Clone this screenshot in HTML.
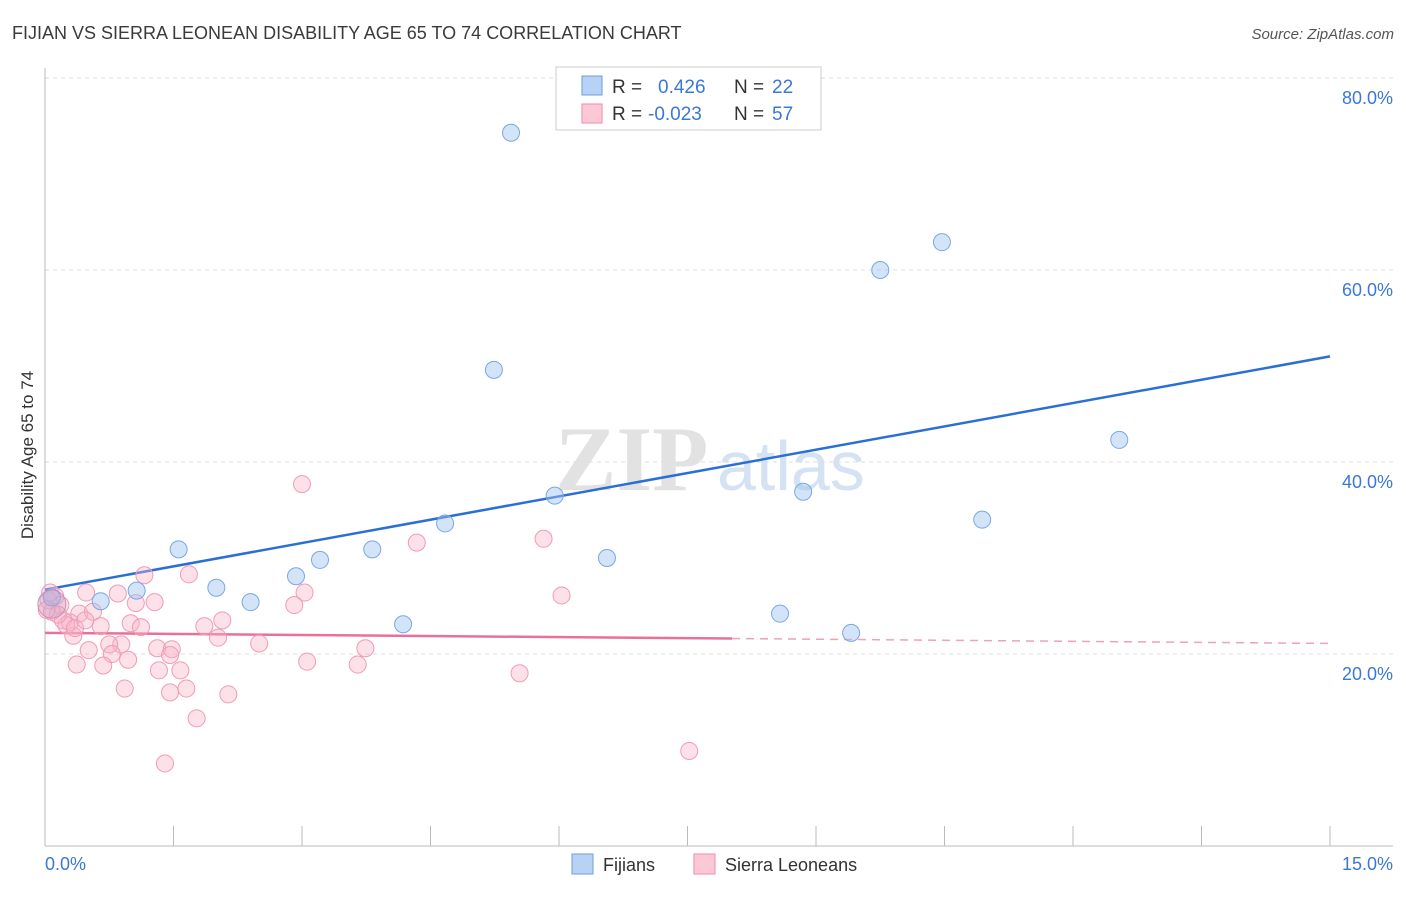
<!DOCTYPE html>
<html><head><meta charset="utf-8"><style>
body{margin:0;background:#fff;font-family:"Liberation Sans",sans-serif}
svg text{font-family:"Liberation Sans",sans-serif}
</style></head><body>
<svg width="1406" height="892" viewBox="0 0 1406 892" xmlns="http://www.w3.org/2000/svg">
<text x="12" y="39" font-size="18" fill="#3a3a3a">FIJIAN VS SIERRA LEONEAN DISABILITY AGE 65 TO 74 CORRELATION CHART</text>
<text x="1394" y="39" font-size="15" fill="#555" font-style="italic" text-anchor="end">Source: ZipAtlas.com</text>
<g>
<text x="555" y="490" font-size="92" fill="#e2e2e2" style="font-family:'Liberation Serif',serif;font-weight:bold">ZIP</text>
<text x="717" y="490" font-size="70" fill="#d4e2f4">atlas</text>
</g>
<g id="grid"></g>
<g id="axes"></g>
<text transform="translate(33,455) rotate(-90)" font-size="17" fill="#333" text-anchor="middle">Disability Age 65 to 74</text>
<g id="lines"></g>
<g id="pts"></g>
<g>
<rect x="556" y="67" width="265" height="63" fill="#fff" stroke="#ccc"/>
<rect x="582" y="76" width="20" height="19" fill="#b8d2f5" stroke="#6a9ee0"/>
<rect x="582" y="104" width="20" height="19" fill="#fcc8d6" stroke="#f08aaa"/>
<text x="612" y="93" font-size="19" fill="#333">R =</text><text x="658" y="93" font-size="19" fill="#3a78d4">0.426</text>
<text x="734" y="93" font-size="19" fill="#333">N =</text><text x="772" y="93" font-size="19" fill="#3a78d4">22</text>
<text x="612" y="120" font-size="19" fill="#333">R =</text><text x="648" y="120" font-size="19" fill="#3a78d4">-0.023</text>
<text x="734" y="120" font-size="19" fill="#333">N =</text><text x="772" y="120" font-size="19" fill="#3a78d4">57</text>
</g>
<g>
<rect x="572" y="854" width="21" height="20" fill="#b8d2f5" stroke="#6a9ee0"/>
<text x="603" y="871" font-size="18" fill="#333">Fijians</text>
<rect x="694" y="854" width="21" height="20" fill="#fcc8d6" stroke="#f08aaa"/>
<text x="725" y="871" font-size="18" fill="#333">Sierra Leoneans</text>
</g>
</svg>
<script>
const yTicks=[20,40,60,80];
const yTickLabels=["20.0%","40.0%","60.0%","80.0%"];
const xTickLabels=["0.0%","15.0%"];
const fijiX=[5.44,10.47,9.75,5.24,12.54,5.95,8.85,4.67,10.94,3.82,1.56,6.56,3.21,2.93,2.00,1.07,2.40,0.65,8.58,4.18,9.41,0.08];
const fijiY=[74.3,62.9,60.0,49.6,42.3,36.5,36.9,33.6,34.0,30.9,30.9,30.0,29.8,28.1,26.9,26.6,25.4,25.5,24.2,23.1,22.2,25.9];
const sierraX=[3.00,5.82,4.34,1.16,1.68,3.03,6.03,0.48,0.85,1.28,1.06,2.91,2.07,0.40,0.56,1.86,0.65,1.00,1.12,2.02,2.50,0.33,0.89,0.75,1.31,1.48,3.74,1.46,0.51,0.78,0.97,3.06,0.37,0.68,3.65,1.33,1.58,5.54,0.93,1.65,1.46,2.14,1.77,1.40,7.52,0.12,0.04,0.18,0.08,0.21,0.29,0.06,0.25,0.15,0.35,0.02,0.47];
const sierraY=[37.7,32.0,31.6,28.2,28.3,26.4,26.1,26.4,26.3,25.4,25.3,25.1,23.5,24.2,24.4,22.9,22.9,23.2,22.8,21.7,21.1,21.9,21.0,21.0,20.6,20.5,20.6,19.9,20.4,20.0,19.4,19.2,18.9,18.8,18.9,18.3,18.3,18.0,16.4,16.4,16.0,15.8,13.3,8.6,9.9,26.0,25.6,25.1,24.4,23.5,23.3,26.4,23.0,24.1,22.7,24.6,23.5];
const fijiTrend=[26.7,51.0];
const sierraTrend=[22.2,21.1];
const NS="http://www.w3.org/2000/svg";
const X=v=>45+v*(1285/15), Y=v=>846-v*9.6;
function mk(t,a,p){const e=document.createElementNS(NS,t);for(const k in a)e.setAttribute(k,a[k]);p.appendChild(e);return e;}
const grid=document.getElementById('grid'),axes=document.getElementById('axes'),lines=document.getElementById('lines'),pts=document.getElementById('pts');
yTicks.forEach((t,i)=>{
 const g=mk('line',{x1:45,x2:1393,y1:Y(t),y2:Y(t),stroke:'#ddd','stroke-dasharray':'4,4'},grid);
 
 
 const l=mk('text',{x:1393,y:Y(t)+26,'font-size':18,fill:'#3a78d4','text-anchor':'end'},axes);
 l.textContent=yTickLabels[i];
 
 
});
mk('line',{x1:45,x2:45,y1:68,y2:846,stroke:'#bbb'},axes);
mk('line',{x1:45,x2:1393,y1:846,y2:846,stroke:'#bbb'},axes);
for(let i=0;i<=10;i++){const x=X(i*1.5);const t=mk('line',{x1:x,x2:x,y1:826,y2:846,stroke:'#bbb'},axes);}
const xl0=mk('text',{x:45,y:870,'font-size':18,fill:'#3a78d4'},axes);xl0.textContent=xTickLabels[0];


const xl1=mk('text',{x:1393,y:870,'font-size':18,fill:'#3a78d4','text-anchor':'end'},axes);xl1.textContent=xTickLabels[1];


function pt(x,y,f,s,n){const c=mk('circle',{cx:X(x),cy:Y(y),r:8.5,fill:f,stroke:s,'stroke-width':1},pts);}
sierraX.forEach((x,i)=>pt(x,sierraY[i],'rgba(248,180,200,0.4)','#f29ab6','sierra-point'));
fijiX.forEach((x,i)=>pt(x,fijiY[i],'rgba(160,195,240,0.45)','#78a8e4','fijian-point'));
const big=mk('circle',{cx:X(0.08),cy:Y(25.2),r:14,fill:'rgba(200,160,200,0.35)',stroke:'#c890b8'},pts);


const fl=mk('line',{x1:X(0),y1:Y(fijiTrend[0]),x2:X(15),y2:Y(fijiTrend[1]),stroke:'#2a6fd6','stroke-width':2.5},lines);


const mx=8.02, my=sierraTrend[0]+(sierraTrend[1]-sierraTrend[0])*mx/15;
const sl=mk('line',{x1:X(0),y1:Y(sierraTrend[0]),x2:X(mx),y2:Y(my),stroke:'#e8709a','stroke-width':2.5},lines);


const sd=mk('line',{x1:X(mx),y1:Y(my),x2:X(15),y2:Y(sierraTrend[1]),stroke:'#f0a0b8','stroke-width':1.5,'stroke-dasharray':'8,6'},lines);


</script>
</body></html>
